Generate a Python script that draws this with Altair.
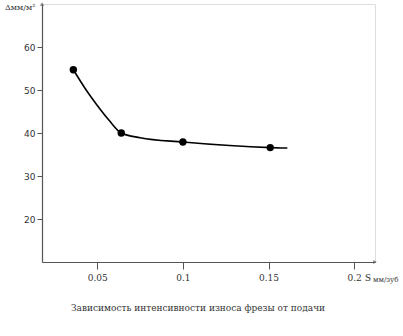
import altair as alt
import pandas as pd

# Measured points
feed = [0.036, 0.064, 0.100, 0.151]
wear = [54.7, 40.0, 37.9, 36.6]

# Curve drawn through the points, continuing past the last one
curve_feed = [0.036, 0.043, 0.050, 0.057, 0.064, 0.075, 0.100, 0.151, 0.161]
curve_wear = [54.7, 50.3, 46.4, 42.9, 40.0, 38.9, 37.9, 36.6, 36.5]

x_ticks = [0.05, 0.1, 0.15, 0.2]
y_ticks = [20, 30, 40, 50, 60]

pts = pd.DataFrame({"feed": feed, "wear": wear})
curve = pd.DataFrame({"feed": curve_feed, "wear": curve_wear})

W, H = 333, 258
xs = alt.Scale(domain=[0.0177, 0.2122], nice=False, zero=False)
ys = alt.Scale(domain=[10, 70], nice=False, zero=False)

axis_common = dict(domainColor="#555555", tickColor="#555555", grid=False,
                   labelColor="#333333", labelFontSize=9, title=None,
                   domainWidth=1.2)

line = alt.Chart(curve).mark_line(color="black", strokeWidth=1.6, interpolate="monotone").encode(
    x=alt.X("feed:Q", scale=xs,
            axis=alt.Axis(values=x_ticks, format=".2~f", tickSize=7, labelPadding=4,
                          labelFont="DejaVu Serif", **axis_common)),
    y=alt.Y("wear:Q", scale=ys,
            axis=alt.Axis(values=y_ticks, tickSize=5, labelPadding=2,
                          labelFont="DejaVu Sans", **axis_common)),
)

dots = alt.Chart(pts).mark_circle(color="black", size=55, opacity=1).encode(
    x=alt.X("feed:Q", scale=xs), y=alt.Y("wear:Q", scale=ys)
)

arrow_x = alt.Chart(pd.DataFrame({"a": [0]})).mark_point(
    shape="triangle-right", filled=True, color="#555555", size=18
).encode(x=alt.value(W), y=alt.value(H))

arrow_y = alt.Chart(pd.DataFrame({"a": [0]})).mark_point(
    shape="triangle-up", filled=True, color="#555555", size=18
).encode(x=alt.value(0), y=alt.value(0))

def label(txt, x, y, size, align="left", font="DejaVu Serif", color="#333333"):
    return alt.Chart(pd.DataFrame({"t": [txt]})).mark_text(
        align=align, baseline="middle", fontSize=size, font=font, color=color
    ).encode(text="t:N", x=alt.value(x), y=alt.value(y))

y_title = label("Δмм/м²", -37, 4, 8)
x_title_s = label("S", 323, 274, 11, font="Liberation Serif")
x_title_sub = label("мм/зуб", 331, 276, 7)
caption = label("Зависимость интенсивности износа фрезы от подачи", 156, 304, 9, align="center")

chart = alt.layer(line, dots, arrow_x, arrow_y, y_title, x_title_s, x_title_sub, caption).properties(
    width=W, height=H,
    autosize=alt.AutoSizeParams(type="none"),
    padding={"left": 42, "top": 4, "right": 28, "bottom": 74},
).configure_view(stroke=None).configure(background="white")

chart.save("out.html", embed_options={"renderer": "svg", "actions": False})
